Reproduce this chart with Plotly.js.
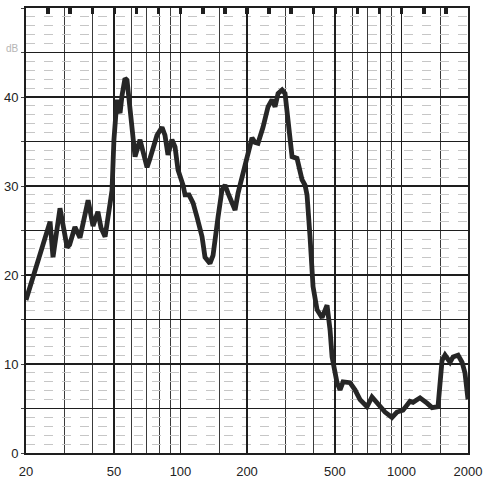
<!DOCTYPE html>
<html>
<head>
<meta charset="utf-8">
<script src="https://cdn.plot.ly/plotly-3.0.1.min.js"></script>
<style>html,body{margin:0;padding:0;background:#fff;}#chart{width:491px;height:481px;}</style>
</head>
<body>
<div id="chart"></div>
<script>
// Frequency (Hz)
const freqHz = [20, 22.7, 25.7, 26.5, 28.5, 30.7, 31.5, 33.3, 35.1, 38.2, 40.2, 42.3, 43.7, 45.6, 47.0, 48.0, 49.0, 50.0, 51.1, 51.6, 52.7, 53.3, 54.4, 56.1, 57.3,
  59.1, 61.0, 62.3, 65.6, 67.7, 70.6, 72.8, 75.1, 78.3, 82.5, 85.1, 87.8, 91.5, 94.5, 97.5, 102.7, 104.9, 109.3, 114.0, 118.8, 125.2, 129.1, 133.2, 136, 140.4, 143.3, 147.9,
  154.2, 159.1, 164.1, 171.1, 176.6, 182.2, 190, 200, 206.3, 210.7, 217.4, 224.3, 236.3, 249.0, 259.6, 267.9, 276.4, 288.2, 297.3, 306.7, 319.8, 336.8, 354.9, 366.1, 373.8,
  385.7, 398, 414.9, 437.2, 460.6, 475.3, 485.3, 511, 527.3, 544, 584.8, 616.1, 649.3, 698.2, 735.5, 775, 842.4, 905.8, 954.4, 1016, 1093, 1128, 1213, 1305, 1375, 1463,
  1526, 1574, 1659, 1712, 1803, 1880, 1938, 2000];
// Level (dB)
const levelDb = [17.2, 21.7, 26.0, 22.0, 27.5, 23.1, 23.4, 25.4, 24.2, 28.4, 25.5, 27.1, 25.3, 24.3, 26.7, 28.4, 29.5, 35.2, 39.1, 39.7, 38.5, 38.2, 40.2, 42.1, 41.9,
  38.5, 36.0, 33.3, 35.2, 33.7, 32.1, 33.1, 34.4, 35.7, 36.6, 35.7, 33.5, 35.2, 34.4, 31.8, 30.1, 29.0, 29.0, 28.1, 26.5, 24.3, 22.0, 21.5, 21.3, 22.2, 23.6, 26.5,
  29.6, 30.1, 29.2, 28.1, 27.3, 29.2, 31.0, 32.7, 34.0, 35.4, 34.9, 34.8, 36.6, 38.9, 39.7, 38.9, 40.4, 40.8, 40.4, 37.1, 33.3, 33.1, 30.7, 30.1, 29.0,
  24.3, 18.7, 16.1, 15.2, 16.6, 13.8, 10.8, 7.9, 7.1, 8.0, 7.9, 7.1, 6.0, 5.2, 6.3, 5.7, 4.6, 4.0, 4.6, 4.8, 5.8, 5.7, 6.2, 5.6, 5.1, 5.2,
  10.4, 11.0, 10.2, 10.8, 11.0, 10.2, 9.0, 6.0];

const xTickVals = [20, 50, 100, 200, 500, 1000, 2000];
const xTickText = ['20', '50', '100', '200', '500', '1000', '2000'];
const xMinorVals = [30, 40, 60, 70, 80, 90, 150, 300, 400, 600, 700, 800, 900, 1500];
const yTickVals = [0, 5, 10, 15, 20, 25, 30, 35, 40, 45, 50];
const yTickText = ['0', '', '10', '', '20', '', '30', '', '40', '', ''];
const topMarks = [25.2, 31.7, 39.9, 50.2, 63.2, 79.6, 100.2, 126.2, 158.9, 200, 251.8, 317, 399, 502, 632, 796, 1002, 1262, 1589];

const lg = v => Math.log10(v);

const traces = [
  {x: freqHz, y: levelDb, type: 'scatter', mode: 'lines',
   line: {color: '#262626', width: 4.8, shape: 'linear'}, hoverinfo: 'skip', showlegend: false},
  {x: [], y: [], type: 'scatter', xaxis: 'x2', yaxis: 'y', showlegend: false}
];

const layout = {
  width: 491, height: 481,
  margin: {l: 26, r: 23, t: 8, b: 28},
  paper_bgcolor: '#ffffff', plot_bgcolor: '#ffffff',
  font: {family: 'Liberation Sans, Arial, sans-serif', size: 13, color: '#222'},
  showlegend: false,
  xaxis: {
    type: 'log', range: [lg(20), lg(2000)],
    tickvals: xTickVals, ticktext: xTickText,
    ticks: '', ticklabelstandoff: 5,
    showgrid: true, gridcolor: '#1e1e1e', gridwidth: 1.8,
    minor: {tickvals: xMinorVals, showgrid: true, gridcolor: '#3a3a3a', gridwidth: 1, ticks: ''},
    showline: true, mirror: true, linecolor: '#1e1e1e', linewidth: 2,
    zeroline: false, fixedrange: true
  },
  xaxis2: {
    type: 'log', range: [lg(20), lg(2000)], overlaying: 'x', side: 'top',
    tickvals: topMarks, ticks: 'inside', ticklen: 6, tickwidth: 3.5, tickcolor: '#1e1e1e',
    showticklabels: false, showgrid: false, showline: false, zeroline: false, fixedrange: true
  },
  yaxis: {
    range: [0, 50],
    tickvals: yTickVals, ticktext: yTickText,
    ticks: 'outside', ticklen: 3, tickcolor: '#444', tickwidth: 1,
    showgrid: true, gridcolor: '#1e1e1e', gridwidth: 1.5,
    minor: {dtick: 1, showgrid: true, gridcolor: '#c6c6c6', gridwidth: 1, griddash: 'dash', ticks: ''},
    showline: true, mirror: true, linecolor: '#1e1e1e', linewidth: 2,
    zeroline: false, fixedrange: true
  },
  annotations: [
    {xref: 'paper', yref: 'paper', x: -0.05, y: 0.91, xanchor: 'left', yanchor: 'middle',
     text: 'dB', showarrow: false, font: {size: 10, color: '#b5b5b5'}}
  ]
};

Plotly.newPlot('chart', traces, layout, {staticPlot: true, displayModeBar: false});
</script>
</body>
</html>
